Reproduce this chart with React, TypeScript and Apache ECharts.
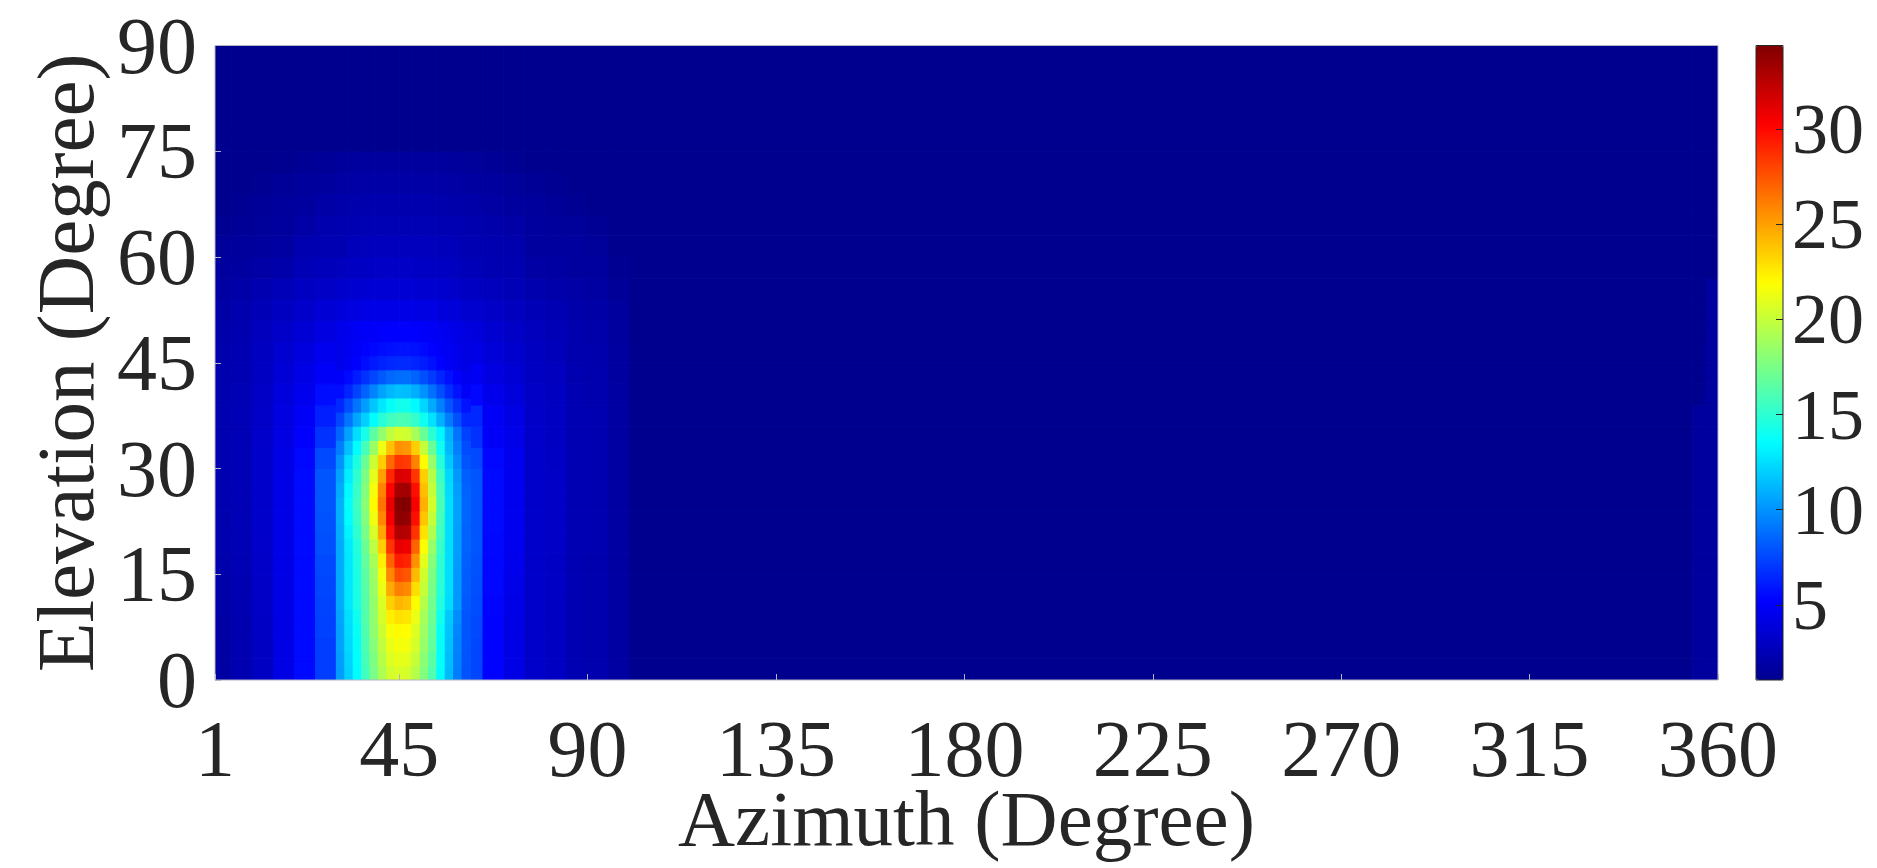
import React, { useEffect, useRef } from "react";
import * as echarts from "echarts";

// ---- data ----
// coarse grid: azimuth bin edges (degrees)
const AZ_EDGES = [1, 5, 10, 15, 20, 25, 30, 33, 36, 39, 42, 45, 48, 51, 54, 57, 60, 65, 70, 75, 80, 85, 90, 95, 100, 354, 357, 360];
// coarse grid: elevation bin edges (degrees)
const EL_EDGES = [0, 3, 6, 9, 12, 15, 18, 21, 24, 27, 30, 33, 36, 39, 42, 45, 48, 51, 54, 57, 60, 63, 66, 69, 72, 75, 78, 90];
// coarse values: one row per elevation bin (bottom to top), one entry per azimuth bin
const HEAT_VALUES: number[][] = [
  [1.8, 2.3, 3.0, 4.2, 5.5, 7.2, 10.0, 13.4, 15.8, 18.6, 20.4, 20.8, 19.3, 16.6, 13.4, 10.5, 7.5, 5.3, 4.2, 3.3, 3.0, 2.4, 2.2, 1.75, 1.05, 1.6, 1.65],
  [1.8, 2.3, 3.0, 4.2, 5.5, 7.2, 10.0, 13.5, 16.0, 19.0, 21.3, 21.8, 20.0, 17.0, 13.5, 10.5, 7.5, 5.3, 4.2, 3.3, 3.0, 2.4, 2.2, 1.75, 1.05, 1.6, 1.65],
  [1.85, 2.3, 3.05, 4.2, 5.5, 7.3, 10.1, 13.5, 16.2, 19.4, 21.9, 22.4, 20.5, 17.2, 13.6, 10.6, 7.6, 5.3, 4.25, 3.3, 3.0, 2.4, 2.2, 1.75, 1.05, 1.6, 1.65],
  [1.95, 2.35, 3.1, 4.25, 5.5, 7.4, 10.2, 13.6, 16.4, 20.2, 23.2, 24.0, 21.5, 17.6, 13.8, 10.7, 7.7, 5.35, 4.3, 3.3, 3.0, 2.4, 2.2, 1.75, 1.05, 1.6, 1.65],
  [2.05, 2.4, 3.15, 4.25, 5.5, 7.5, 10.4, 13.7, 16.6, 21.3, 25.4, 26.5, 23.0, 18.2, 14.0, 10.8, 7.8, 5.4, 4.4, 3.3, 3.05, 2.4, 2.25, 1.75, 1.05, 1.6, 1.65],
  [2.15, 2.45, 3.2, 4.3, 5.5, 7.6, 10.6, 13.8, 16.9, 22.5, 27.7, 29.0, 24.8, 18.8, 14.3, 11.0, 7.9, 5.4, 4.5, 3.3, 3.05, 2.4, 2.25, 1.75, 1.05, 1.6, 1.65],
  [2.2, 2.45, 3.25, 4.3, 5.5, 7.8, 10.8, 13.9, 17.2, 23.8, 30.0, 31.7, 26.6, 19.4, 14.6, 11.2, 8.0, 5.45, 4.6, 3.3, 3.1, 2.4, 2.3, 1.75, 1.05, 1.6, 1.65],
  [2.25, 2.5, 3.3, 4.3, 5.5, 7.9, 10.9, 14.0, 17.4, 24.8, 31.5, 33.7, 27.8, 19.8, 14.8, 11.4, 8.0, 5.5, 4.65, 3.3, 3.1, 2.4, 2.3, 1.75, 1.05, 1.6, 1.65],
  [2.3, 2.5, 3.3, 4.3, 5.5, 8.0, 11.0, 14.0, 17.5, 25.5, 32.0, 34.4, 28.5, 20.0, 15.0, 11.5, 8.0, 5.5, 4.7, 3.3, 3.1, 2.4, 2.3, 1.75, 1.05, 1.6, 1.65],
  [2.3, 2.5, 3.3, 4.3, 5.5, 8.0, 11.0, 14.0, 17.3, 24.0, 30.5, 32.0, 27.5, 20.0, 14.8, 11.3, 8.0, 5.5, 4.7, 3.3, 3.1, 2.4, 2.3, 1.75, 1.05, 1.6, 1.65],
  [2.3, 2.5, 3.3, 4.25, 5.4, 7.6, 10.5, 13.6, 17.0, 21.5, 26.3, 27.5, 24.5, 19.0, 14.0, 10.5, 7.6, 5.4, 4.6, 3.3, 3.05, 2.4, 2.3, 1.75, 1.05, 1.6, 1.65],
  [2.3, 2.5, 3.25, 4.15, 5.1, 6.8, 9.3, 12.0, 14.8, 18.0, 20.8, 21.5, 19.5, 16.0, 12.5, 9.5, 6.8, 5.0, 4.4, 3.25, 3.0, 2.4, 2.3, 1.75, 1.05, 1.6, 1.65],
  [2.3, 2.5, 3.2, 4.05, 4.9, 6.2, 8.2, 10.4, 12.6, 14.4, 15.5, 15.8, 15.0, 13.4, 11.2, 8.9, 6.5, 4.9, 4.2, 3.2, 2.95, 2.4, 2.3, 1.75, 1.05, 1.6, 1.65],
  [2.25, 2.45, 3.1, 3.9, 4.6, 5.6, 7.0, 8.4, 9.8, 11.0, 11.8, 12.0, 11.4, 10.1, 8.5, 7.0, 5.4, 4.5, 3.9, 3.1, 2.9, 2.35, 2.25, 1.75, 1.05, 1.05, 1.65],
  [2.2, 2.4, 3.0, 3.7, 4.3, 5.0, 5.9, 6.7, 7.4, 7.9, 8.2, 8.3, 8.0, 7.4, 6.7, 5.8, 4.8, 4.1, 3.6, 3.0, 2.8, 2.3, 2.2, 1.7, 1.05, 1.05, 1.65],
  [2.15, 2.35, 2.9, 3.5, 4.0, 4.6, 5.1, 5.5, 5.8, 6.0, 6.15, 6.2, 6.0, 5.7, 5.3, 4.9, 4.3, 3.8, 3.35, 2.9, 2.7, 2.25, 2.15, 1.7, 1.05, 1.05, 1.65],
  [2.05, 2.3, 2.75, 3.2, 3.6, 4.1, 4.5, 4.8, 5.0, 5.05, 5.1, 5.1, 5.05, 4.9, 4.6, 4.3, 3.9, 3.5, 3.1, 2.75, 2.55, 2.2, 2.05, 1.65, 1.05, 1.05, 1.6],
  [1.95, 2.2, 2.55, 2.9, 3.25, 3.6, 3.9, 4.1, 4.2, 4.3, 4.3, 4.3, 4.25, 4.15, 3.95, 3.75, 3.45, 3.1, 2.8, 2.5, 2.35, 2.1, 1.95, 1.6, 1.05, 1.05, 1.6],
  [1.75, 2.0, 2.3, 2.6, 2.9, 3.15, 3.35, 3.5, 3.55, 3.6, 3.6, 3.6, 3.55, 3.5, 3.4, 3.25, 3.0, 2.75, 2.5, 2.2, 2.1, 1.9, 1.75, 1.4, 1.05, 1.05, 1.6],
  [1.6, 1.7, 1.9, 2.1, 2.5, 2.65, 2.8, 2.95, 3.05, 3.1, 3.1, 3.1, 3.05, 3.0, 2.95, 2.85, 2.6, 2.4, 2.3, 1.85, 1.75, 1.65, 1.6, 1.2, 1.05, 1.05, 1.05],
  [1.45, 1.55, 1.6, 1.75, 2.3, 2.35, 2.4, 2.7, 2.75, 2.75, 2.75, 2.75, 2.75, 2.75, 2.7, 2.6, 2.35, 2.3, 2.2, 1.65, 1.6, 1.6, 1.5, 1.05, 1.05, 1.05, 1.05],
  [1.2, 1.35, 1.5, 1.6, 1.9, 2.2, 2.3, 2.4, 2.45, 2.45, 2.45, 2.45, 2.45, 2.45, 2.4, 2.35, 2.25, 2.1, 1.9, 1.6, 1.55, 1.45, 1.25, 1.05, 1.05, 1.05, 1.05],
  [1.05, 1.2, 1.4, 1.55, 1.65, 1.95, 2.1, 2.15, 2.2, 2.2, 2.2, 2.2, 2.2, 2.2, 2.15, 2.1, 2.0, 1.8, 1.65, 1.55, 1.4, 1.2, 1.05, 1.05, 1.05, 1.05, 1.05],
  [1.05, 1.05, 1.2, 1.4, 1.55, 1.65, 1.8, 1.9, 1.95, 1.95, 1.95, 1.95, 1.95, 1.95, 1.9, 1.85, 1.7, 1.6, 1.5, 1.3, 1.15, 1.05, 1.05, 1.05, 1.05, 1.05, 1.05],
  [1.05, 1.05, 1.05, 1.1, 1.25, 1.4, 1.55, 1.62, 1.65, 1.65, 1.65, 1.65, 1.65, 1.65, 1.62, 1.58, 1.45, 1.3, 1.15, 1.05, 1.05, 1.05, 1.05, 1.05, 1.05, 1.05, 1.05],
  [1.05, 1.05, 1.05, 1.05, 1.05, 1.05, 1.05, 1.05, 1.05, 1.05, 1.05, 1.05, 1.05, 1.05, 1.05, 1.05, 1.05, 1.05, 1.05, 1.05, 1.05, 1.05, 1.05, 1.05, 1.05, 1.05, 1.05],
  [1.05, 1.05, 1.05, 1.05, 1.05, 1.05, 1.05, 1.05, 1.05, 1.05, 1.05, 1.05, 1.05, 1.05, 1.05, 1.05, 1.05, 1.05, 1.05, 1.05, 1.05, 1.05, 1.05, 1.05, 1.05, 1.05, 1.05],
];

// fine grid over the main lobe: azimuth 30-62, elevation 0-50 (2-degree bins)
const CORE_AZ_EDGES = [30, 32, 34, 36, 38, 40, 42, 44, 46, 48, 50, 52, 54, 56, 58, 60, 62];
const CORE_EL_EDGES = [0, 2, 4, 6, 8, 10, 12, 14, 16, 18, 20, 22, 24, 26, 28, 30, 32, 34, 36, 38, 40, 42, 44, 46, 48, 50];
const CORE_VALUES: number[][] = [
  [10.3, 12.0, 13.5, 15.6, 17.5, 19.2, 20.4, 20.7, 20.5, 19.5, 17.8, 16.2, 13.5, 11.3, 9.3, 7.9],
  [10.4, 12.1, 13.6, 15.8, 17.7, 19.5, 20.8, 21.1, 21.0, 20.0, 18.1, 16.5, 13.6, 11.4, 9.4, 7.95],
  [10.5, 12.3, 13.7, 16.0, 18.0, 19.8, 21.2, 21.6, 21.5, 20.5, 18.5, 16.8, 13.7, 11.5, 9.5, 8.0],
  [10.5, 12.4, 13.8, 16.1, 18.2, 20.2, 21.7, 22.0, 21.9, 20.8, 18.7, 16.9, 13.8, 11.6, 9.6, 8.0],
  [10.6, 12.5, 14.0, 16.2, 18.3, 20.5, 22.4, 22.9, 22.7, 21.3, 19.0, 17.1, 14.1, 11.8, 9.8, 8.0],
  [10.8, 12.8, 14.4, 16.3, 18.4, 20.7, 23.4, 24.3, 24.0, 22.0, 19.5, 17.3, 14.6, 12.4, 10.2, 8.1],
  [10.8, 12.8, 14.4, 16.4, 18.5, 21.2, 24.7, 26.1, 25.8, 23.0, 20.0, 17.5, 14.9, 12.5, 10.2, 8.2],
  [10.8, 12.8, 14.4, 16.5, 18.6, 21.6, 25.8, 27.8, 27.5, 24.2, 20.4, 17.7, 15.0, 12.5, 10.2, 8.2],
  [10.8, 12.8, 14.5, 16.7, 19.0, 22.4, 27.0, 29.4, 29.1, 25.5, 21.0, 18.0, 15.1, 12.5, 10.3, 8.3],
  [10.8, 12.9, 14.6, 17.0, 19.7, 23.5, 28.5, 31.0, 30.8, 27.0, 21.8, 18.5, 15.3, 12.5, 10.4, 8.4],
  [10.9, 13.2, 15.0, 17.4, 20.6, 24.8, 29.8, 32.8, 32.6, 28.6, 22.8, 19.3, 15.6, 12.5, 10.4, 8.4],
  [11.0, 13.5, 15.3, 17.8, 21.4, 25.8, 30.6, 33.9, 33.8, 29.8, 23.8, 20.0, 15.8, 12.5, 10.5, 8.5],
  [11.0, 13.7, 15.5, 18.0, 22.0, 26.5, 31.0, 34.2, 34.4, 30.5, 24.5, 20.5, 16.0, 12.5, 10.5, 8.5],
  [10.8, 13.4, 15.3, 17.8, 21.6, 26.0, 30.2, 33.2, 33.3, 29.8, 24.0, 20.0, 15.8, 12.4, 10.4, 8.4],
  [10.5, 13.0, 15.0, 17.5, 21.0, 25.0, 29.0, 31.5, 31.3, 28.5, 23.5, 19.5, 15.5, 12.3, 10.2, 8.3],
  [10.0, 12.5, 14.5, 17.0, 20.2, 23.5, 26.8, 28.5, 28.3, 26.0, 22.0, 18.5, 14.8, 11.8, 9.8, 8.0],
  [9.3, 11.5, 13.5, 15.8, 18.5, 21.3, 23.9, 25.5, 25.3, 23.5, 20.0, 17.0, 14.0, 11.3, 9.4, 7.7],
  [8.5, 10.5, 12.5, 14.3, 16.5, 18.3, 19.8, 20.5, 20.3, 19.0, 17.0, 15.0, 13.3, 11.0, 9.0, 7.3],
  [7.5, 9.0, 10.6, 12.0, 13.5, 14.8, 15.6, 16.0, 15.9, 15.2, 14.0, 12.6, 11.0, 9.3, 7.8, 6.5],
  [6.5, 7.7, 9.0, 10.3, 11.7, 12.8, 13.7, 14.2, 14.1, 13.4, 12.2, 10.8, 9.4, 8.0, 6.8, 5.8],
  [5.6, 6.4, 7.4, 8.4, 9.5, 10.5, 11.2, 11.5, 11.4, 10.9, 10.0, 8.9, 7.8, 6.7, 5.8, 5.0],
  [5.0, 5.5, 6.1, 6.8, 7.5, 8.1, 8.6, 8.8, 8.8, 8.4, 7.8, 7.1, 6.4, 5.7, 5.1, 4.6],
  [4.4, 4.8, 5.2, 5.6, 6.0, 6.3, 6.5, 6.6, 6.6, 6.4, 6.1, 5.7, 5.3, 4.9, 4.5, 4.2],
  [4.4, 4.7, 5.0, 5.25, 5.45, 5.6, 5.75, 5.8, 5.8, 5.7, 5.5, 5.25, 5.0, 4.75, 4.45, 4.15],
  [4.4, 4.6, 4.8, 4.95, 5.05, 5.15, 5.2, 5.2, 5.2, 5.15, 5.05, 4.9, 4.75, 4.55, 4.35, 4.1],
];

const X_TICKS = [1, 45, 90, 135, 180, 225, 270, 315, 360];
const Y_MIN = 0;
const Y_MAX = 90;
const Y_STEP = 15;
const CB_TICKS = [5, 10, 15, 20, 25, 30];
const COLOR_MIN = 1.05;
const COLOR_MAX = 34.4;
const JET = ["#00008F", "#0000FF", "#0080FF", "#00FFFF", "#80FF80", "#FFFF00", "#FF8000", "#FF0000", "#800000"];

const FONT = "'Liberation Serif', 'Times New Roman', serif";
const TEXT_COLOR = "#262626";

function buildCells(azEdges: number[], elEdges: number[], values: number[][]) {
  const out: number[][] = [];
  for (let i = 0; i < elEdges.length - 1; i++) {
    const row = values[i] || [];
    for (let j = 0; j < azEdges.length - 1; j++) {
      if (row[j] === undefined) continue;
      out.push([azEdges[j], azEdges[j + 1], elEdges[i], elEdges[i + 1], row[j]]);
    }
  }
  return out;
}

export default function App() {
  const ref = useRef<HTMLDivElement>(null);

  useEffect(() => {
    document.body.style.margin = "0";
    if (!ref.current) return;
    const chart = echarts.init(ref.current, undefined, { renderer: "svg" });

    const coarse = buildCells(AZ_EDGES, EL_EDGES, HEAT_VALUES);
    const fine = buildCells(CORE_AZ_EDGES, CORE_EL_EDGES, CORE_VALUES);

    const renderItem = (params: any, api: any) => {
      const p0 = api.coord([api.value(0), api.value(3)]);
      const p1 = api.coord([api.value(1), api.value(2)]);
      const color = api.visual("color");
      return {
        type: "rect",
        shape: { x: p0[0], y: p0[1], width: p1[0] - p0[0], height: p1[1] - p0[1] },
        style: { fill: color, stroke: color, lineWidth: 1 },
      };
    };

    const option: any = {
      animation: false,
      textStyle: { fontFamily: FONT },
      grid: [
        {
          left: 215, top: 45.5, width: 1503, height: 634.5,
          show: true, borderColor: "#b4b4c4", borderWidth: 1, backgroundColor: "transparent",
          z: 10, containLabel: false, outerBoundsMode: "none",
        },
        {
          left: 1756, top: 45.5, width: 27, height: 634.5,
          show: true, borderColor: TEXT_COLOR, borderWidth: 1, backgroundColor: "transparent",
          z: 10, containLabel: false, outerBoundsMode: "none",
        },
      ],
      xAxis: [
        {
          gridIndex: 0, type: "value", min: 1, max: 360,
          name: "Azimuth (Degree)", nameLocation: "middle", nameGap: 100, nameMoveOverlap: false,
          nameTextStyle: { fontSize: 79, lineHeight: 76, color: TEXT_COLOR, fontFamily: FONT },
          axisLine: { show: false, onZero: false },
          axisTick: { show: true, inside: true, length: 6, lineStyle: { color: "#b4b4c4" }, customValues: X_TICKS },
          axisLabel: { fontSize: 80, lineHeight: 60, color: TEXT_COLOR, fontFamily: FONT, margin: 39, customValues: X_TICKS },
          splitLine: { show: false },
          z: 10,
        },
        { gridIndex: 1, type: "value", min: 0, max: 1, show: false, axisLine: { onZero: false } },
      ],
      yAxis: [
        {
          gridIndex: 0, type: "value", min: Y_MIN, max: Y_MAX, interval: Y_STEP,
          name: "Elevation (Degree)", nameLocation: "middle", nameGap: 104,
          nameTextStyle: { fontSize: 81, color: TEXT_COLOR, fontFamily: FONT },
          axisLine: { show: false, onZero: false },
          axisTick: { show: true, inside: true, length: 6, lineStyle: { color: "#b4b4c4" } },
          axisLabel: { fontSize: 80, color: TEXT_COLOR, fontFamily: FONT, margin: 18 },
          splitLine: { show: false },
          z: 10,
        },
        {
          gridIndex: 1, type: "value", min: COLOR_MIN, max: COLOR_MAX, position: "right",
          axisLine: { show: false, onZero: false },
          axisTick: { show: true, inside: true, length: 7, lineStyle: { color: TEXT_COLOR }, customValues: CB_TICKS },
          axisLabel: { fontSize: 72, color: TEXT_COLOR, fontFamily: FONT, margin: 9, customValues: CB_TICKS },
          splitLine: { show: false },
          z: 11,
        },
      ],
      visualMap: {
        type: "continuous", seriesIndex: [0, 1], dimension: 4,
        min: COLOR_MIN, max: COLOR_MAX,
        inRange: { color: JET },
        orient: "vertical",
        left: 1756, top: 45.5, itemWidth: 27, itemHeight: 634.5, padding: 0,
        calculable: false, hoverLink: false, showLabel: false,
      },
      series: [
        {
          type: "custom", coordinateSystem: "cartesian2d", xAxisIndex: 0, yAxisIndex: 0,
          renderItem, data: coarse, encode: { x: [0, 1], y: [2, 3] }, clip: true, silent: true, z: 2,
        },
        {
          type: "custom", coordinateSystem: "cartesian2d", xAxisIndex: 0, yAxisIndex: 0,
          renderItem, data: fine, encode: { x: [0, 1], y: [2, 3] }, clip: true, silent: true, z: 3,
        },
      ],
    };

    chart.setOption(option);
    return () => chart.dispose();
  }, []);

  return <div ref={ref} style={{ position: "fixed", left: 0, top: 0, width: 1877, height: 868 }} />;
}
